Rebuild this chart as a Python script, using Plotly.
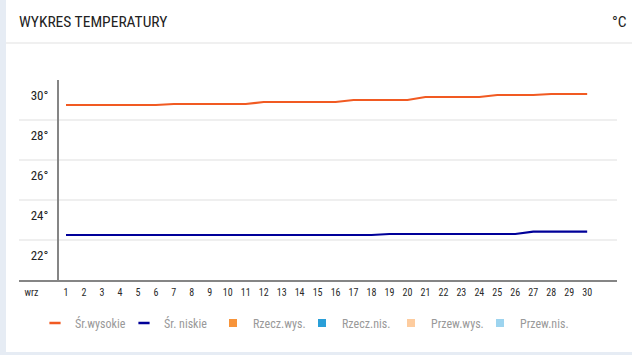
import plotly.graph_objects as go

days = list(range(1, 31))
avg_high = [28.75]*6 + [28.8]*5 + [28.9]*5 + [29.0]*4 + [29.15]*4 + [29.25]*3 + [29.3]*3
avg_low = [22.25]*18 + [22.3]*8 + [22.42]*4
x_tick_vals = [-0.92] + days
x_tick_text = ["wrz"] + [str(d) for d in days]
y_grid_vals = [22, 24, 26, 28, 30]
y_label_vals = [21.25, 23.25, 25.25, 27.25, 29.25]
y_label_text = ["22°", "24°", "26°", "28°", "30°"]

legend_names = ["Śr.wysokie", "Śr. niskie", "Rzecz.wys.", "Rzecz.nis.", "Przew.wys.", "Przew.nis."]
legend_colors = ["#f15a22", "#000099", "#f7943a", "#2a9fd8", "#fdcc9f", "#9dd4ef"]

FONT = "Roboto Condensed, Roboto, sans-serif"

# plot area in pixels
L, R, T, B = 19, 617, 80, 280
W, H = 632, 355
pw, ph = R - L, B - T
def px(x):
    return (x - L) / pw
def py(y):
    return (B - y) / ph

fig = go.Figure()
fig.add_trace(go.Scatter(x=days, y=avg_high, mode="lines", line=dict(color=legend_colors[0], width=2.2),
                         showlegend=False, hoverinfo="skip"))
fig.add_trace(go.Scatter(x=days, y=avg_low, mode="lines", line=dict(color=legend_colors[1], width=2.2),
                         showlegend=False, hoverinfo="skip"))
for i, (name, col) in enumerate(zip(legend_names, legend_colors)):
    if i < 2:
        marker = dict(symbol="line-ew", size=8, line=dict(color=col, width=2.5))
    else:
        marker = dict(symbol="square", size=8, color=col)
    fig.add_trace(go.Scatter(x=[None], y=[None], mode="markers", name=name, marker=marker))

fig.update_layout(
    width=W, height=H,
    margin=dict(l=L, r=W - R, t=T, b=H - B, pad=0),
    paper_bgcolor="#e6ecf4",
    plot_bgcolor="rgba(0,0,0,0)",
    font=dict(family=FONT, color="#222222"),
    showlegend=True,
    legend=dict(orientation="h", x=px(35), xanchor="left", y=py(323), yanchor="middle",
                font=dict(family=FONT, size=12, color="#999999"),
                entrywidth=44, entrywidthmode="pixels", itemwidth=30,
                bgcolor="rgba(0,0,0,0)"),
    xaxis=dict(range=[-1.615, 31.66], tickmode="array", tickvals=x_tick_vals, ticktext=x_tick_text,
               showgrid=False, zeroline=False, showline=True, linecolor="#858585", linewidth=2,
               ticks="", tickfont=dict(family=FONT, size=10, color="#2a2a2a"), ticklabelstandoff=2),
    yaxis=dict(range=[20, 30], anchor="free", position=px(58), side="left",
               tickmode="array", tickvals=y_label_vals, ticktext=y_label_text,
               showgrid=False, zeroline=False, showline=True, linecolor="#858585", linewidth=2,
               ticks="", tickfont=dict(family=FONT, size=13, color="#222222"), ticklabelstandoff=6,
               minor=dict(tickmode="array", tickvals=y_grid_vals, showgrid=True, gridcolor="#efefef",
                          gridwidth=2, ticks="")),
    shapes=[
        dict(type="rect", xref="paper", yref="paper", x0=px(6), x1=px(640), y0=py(352), y1=py(-5),
             fillcolor="white", line=dict(width=0), layer="below"),
        dict(type="line", xref="paper", yref="paper", x0=px(6), x1=px(640), y0=py(43), y1=py(43),
             line=dict(color="#e2e2e2", width=1.2), layer="below"),
    ],
    annotations=[
        dict(text="WYKRES TEMPERATURY", xref="paper", yref="paper", x=px(17), y=py(21.5),
             xanchor="left", yanchor="middle", showarrow=False,
             font=dict(family=FONT, size=15.5, color="#222222")),
        dict(text="°C", xref="paper", yref="paper", x=px(629), y=py(21.5),
             xanchor="right", yanchor="middle", showarrow=False,
             font=dict(family=FONT, size=15.5, color="#222222")),
    ],
)

fig.write_html("out.html", config={"displayModeBar": False},
               post_script="document.body.style.margin='0';")
